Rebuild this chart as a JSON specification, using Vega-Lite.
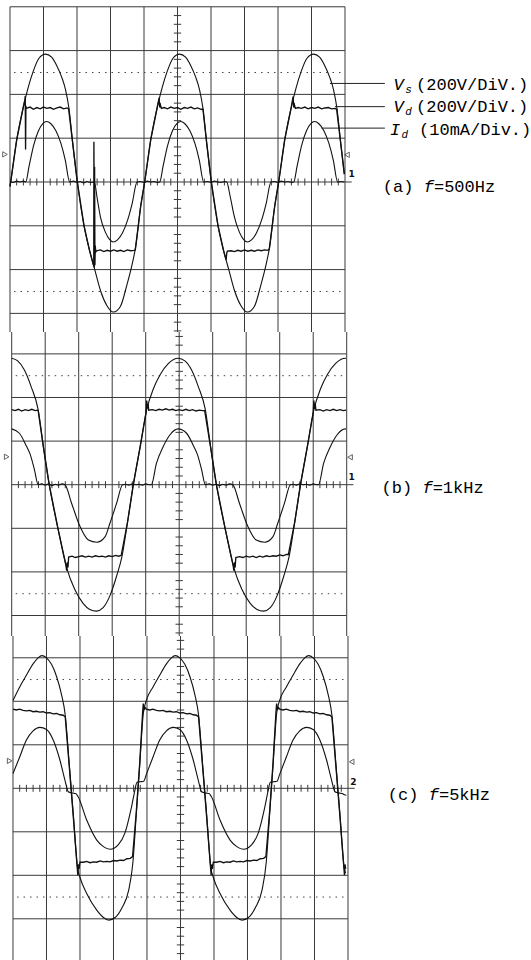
{
"$schema":"https://vega.github.io/schema/vega-lite/v6.json",
"padding":0,
"spacing":0,
"bounds":"flush",
"background":"white",
"config":{"view":{"stroke":null}},
"resolve":{"scale":{"x":"independent","y":"independent"}},
"datasets":{
"hl":[{"p":"a","y":4},{"p":"a","y":3},{"p":"a","y":2},{"p":"a","y":1},{"p":"a","y":0},{"p":"a","y":-1},{"p":"a","y":-2},{"p":"a","y":-3},
{"p":"b","y":3},{"p":"b","y":2},{"p":"b","y":1},{"p":"b","y":0},{"p":"b","y":-1},{"p":"b","y":-2},{"p":"b","y":-3},
{"p":"c","y":3},{"p":"c","y":2},{"p":"c","y":1},{"p":"c","y":0},{"p":"c","y":-1},{"p":"c","y":-2},{"p":"c","y":-3}],
"vl":[{"x":0},{"x":1},{"x":2},{"x":3},{"x":4},{"x":5},{"x":6},{"x":7},{"x":8},{"x":9},{"x":10}],
"tx":[{"x":0.2},{"x":0.4},{"x":0.6},{"x":0.8},{"x":1.2},{"x":1.4},{"x":1.6},{"x":1.8},{"x":2.2},{"x":2.4},{"x":2.6},{"x":2.8},{"x":3.2},{"x":3.4},{"x":3.6},{"x":3.8},{"x":4.2},{"x":4.4},{"x":4.6},{"x":4.8},{"x":5.2},{"x":5.4},{"x":5.6},{"x":5.8},{"x":6.2},{"x":6.4},{"x":6.6},{"x":6.8},{"x":7.2},{"x":7.4},{"x":7.6},{"x":7.8},{"x":8.2},{"x":8.4},{"x":8.6},{"x":8.8},{"x":9.2},{"x":9.4},{"x":9.6},{"x":9.8}],
"ty":[{"y":-3.8},{"y":-3.6},{"y":-3.4},{"y":-3.2},{"y":-2.8},{"y":-2.6},{"y":-2.4},{"y":-2.2},{"y":-1.8},{"y":-1.6},{"y":-1.4},{"y":-1.2},{"y":-0.8},{"y":-0.6},{"y":-0.4},{"y":-0.2},{"y":0.2},{"y":0.4},{"y":0.6},{"y":0.8},{"y":1.2},{"y":1.4},{"y":1.6},{"y":1.8},{"y":2.2},{"y":2.4},{"y":2.6},{"y":2.8},{"y":3.2},{"y":3.4},{"y":3.6},{"y":3.8}],
"dl":[{"y":2.5},{"y":-2.5}],
"ext":[{"y":0}],
"mr":[{"p":"a","x":-0.15,"y":0.63},{"p":"b","x":-0.15,"y":0.64},{"p":"c","x":-0.1,"y":0.63}],
"ml":[{"p":"a","x":10.06,"y":0.62},{"p":"b","x":10.1,"y":0.63},{"p":"c","x":10.11,"y":0.61}],
"ch":[{"p":"a","x":10.2,"y":0.19,"t":"1"},{"p":"b","x":10.15,"y":0.17,"t":"1"},{"p":"c","x":10.16,"y":0.15,"t":"2"}],
"ld":[{"x":9.55,"x2":11.19,"y":2.25},{"x":9.7,"x2":11.19,"y":1.72},{"x":9.3,"x2":11.19,"y":1.23}],
"tr":[{"p":"a","x":12.12,"y":2.1,"t":"(200V/DiV.)"},{"p":"a","x":12.12,"y":1.59,"t":"(200V/DiV.)"},{"p":"a","x":12.21,"y":1.07,"t":"(10mA/Div.)"},{"p":"a","x":11.13,"y":-0.22,"t":"(a)"},{"p":"a","x":12.655,"y":-0.22,"t":"=500Hz"},
{"p":"b","x":11.04,"y":-0.19,"t":"(b)"},{"p":"b","x":12.565,"y":-0.19,"t":"=1kHz"},
{"p":"c","x":11.19,"y":-0.27,"t":"(c)"},{"p":"c","x":12.715,"y":-0.27,"t":"=5kHz"}],
"ti":[{"p":"a","x":11.45,"y":2.1,"t":"V"},{"p":"a","x":11.45,"y":1.59,"t":"V"},{"p":"a","x":11.34,"y":1.07,"t":"I"},{"p":"a","x":12.35,"y":-0.22,"t":"f"},
{"p":"b","x":12.26,"y":-0.19,"t":"f"},{"p":"c","x":12.41,"y":-0.27,"t":"f"}],
"ts":[{"p":"a","x":11.8,"y":2.04,"t":"s"},{"p":"a","x":11.8,"y":1.53,"t":"d"},{"p":"a","x":11.69,"y":1.01,"t":"d"}],
"A":[
{"s":"Vs","x":0,"y":-0.1},{"s":"Vs","x":0.02,"y":0},{"s":"Vs","x":0.2,"y":0.96},{"s":"Vs","x":0.4,"y":1.72},{"s":"Vs","x":0.54,"y":2.15},{"s":"Vs","x":0.69,"y":2.52},{"s":"Vs","x":0.86,"y":2.82},{"s":"Vs","x":1.06,"y":2.92},{"s":"Vs","x":1.24,"y":2.85},{"s":"Vs","x":1.4,"y":2.65},{"s":"Vs","x":1.54,"y":2.4},{"s":"Vs","x":1.66,"y":2.1},{"s":"Vs","x":1.76,"y":1.68},{"s":"Vs","x":1.87,"y":0.9},{"s":"Vs","x":2.01,"y":0},{"s":"Vs","x":2.21,"y":-1},{"s":"Vs","x":2.37,"y":-1.55},{"s":"Vs","x":2.53,"y":-2},{"s":"Vs","x":2.71,"y":-2.5},{"s":"Vs","x":2.89,"y":-2.82},{"s":"Vs","x":3.09,"y":-2.97},{"s":"Vs","x":3.29,"y":-2.85},{"s":"Vs","x":3.49,"y":-2.35},{"s":"Vs","x":3.64,"y":-1.9},{"s":"Vs","x":3.75,"y":-1.48},{"s":"Vs","x":3.9,"y":-0.56},
{"s":"Vs","x":4.02,"y":0},{"s":"Vs","x":4.2,"y":0.96},{"s":"Vs","x":4.4,"y":1.72},{"s":"Vs","x":4.54,"y":2.15},{"s":"Vs","x":4.69,"y":2.52},{"s":"Vs","x":4.86,"y":2.82},{"s":"Vs","x":5.06,"y":2.92},{"s":"Vs","x":5.24,"y":2.85},{"s":"Vs","x":5.4,"y":2.65},{"s":"Vs","x":5.54,"y":2.4},{"s":"Vs","x":5.66,"y":2.1},{"s":"Vs","x":5.76,"y":1.68},{"s":"Vs","x":5.87,"y":0.9},{"s":"Vs","x":6.01,"y":0},{"s":"Vs","x":6.21,"y":-1},{"s":"Vs","x":6.37,"y":-1.55},{"s":"Vs","x":6.53,"y":-2},{"s":"Vs","x":6.71,"y":-2.5},{"s":"Vs","x":6.89,"y":-2.82},{"s":"Vs","x":7.09,"y":-2.97},{"s":"Vs","x":7.29,"y":-2.85},{"s":"Vs","x":7.49,"y":-2.35},{"s":"Vs","x":7.64,"y":-1.9},{"s":"Vs","x":7.75,"y":-1.48},{"s":"Vs","x":7.9,"y":-0.56},
{"s":"Vs","x":8.02,"y":0},{"s":"Vs","x":8.2,"y":0.96},{"s":"Vs","x":8.4,"y":1.72},{"s":"Vs","x":8.54,"y":2.15},{"s":"Vs","x":8.69,"y":2.52},{"s":"Vs","x":8.86,"y":2.82},{"s":"Vs","x":9.06,"y":2.92},{"s":"Vs","x":9.24,"y":2.85},{"s":"Vs","x":9.4,"y":2.65},{"s":"Vs","x":9.54,"y":2.4},{"s":"Vs","x":9.66,"y":2.1},{"s":"Vs","x":9.76,"y":1.68},{"s":"Vs","x":9.87,"y":0.9},{"s":"Vs","x":9.98,"y":0.18},
{"s":"Vd","x":0,"y":-0.1},{"s":"Vd","x":0.02,"y":0},{"s":"Vd","x":0.2,"y":0.96},{"s":"Vd","x":0.4,"y":1.72},{"s":"Vd","x":0.445,"y":1.88},{"s":"Vd","x":0.455,"y":1.96},{"s":"Vd","x":0.465,"y":0.74},{"s":"Vd","x":0.475,"y":1.74},{"s":"Vd","x":0.49,"y":1.68},{"s":"Vd","x":0.6,"y":1.71},{"s":"Vd","x":0.7,"y":1.66},{"s":"Vd","x":0.8,"y":1.7},{"s":"Vd","x":0.9,"y":1.67},{"s":"Vd","x":1.0,"y":1.71},{"s":"Vd","x":1.1,"y":1.68},{"s":"Vd","x":1.2,"y":1.7},{"s":"Vd","x":1.3,"y":1.66},{"s":"Vd","x":1.4,"y":1.69},{"s":"Vd","x":1.5,"y":1.71},{"s":"Vd","x":1.6,"y":1.67},{"s":"Vd","x":1.7,"y":1.69},{"s":"Vd","x":1.75,"y":1.67},{"s":"Vd","x":1.87,"y":0.9},{"s":"Vd","x":2.01,"y":0},{"s":"Vd","x":2.21,"y":-1},{"s":"Vd","x":2.37,"y":-1.55},{"s":"Vd","x":2.5,"y":-1.92},{"s":"Vd","x":2.505,"y":0.92},{"s":"Vd","x":2.515,"y":-1.95},{"s":"Vd","x":2.525,"y":0.35},{"s":"Vd","x":2.535,"y":-1.9},{"s":"Vd","x":2.545,"y":-1.45},{"s":"Vd","x":2.56,"y":-1.6},{"s":"Vd","x":2.58,"y":-1.57},{"s":"Vd","x":2.7,"y":-1.55},{"s":"Vd","x":2.8,"y":-1.59},{"s":"Vd","x":2.9,"y":-1.56},{"s":"Vd","x":3.0,"y":-1.58},{"s":"Vd","x":3.1,"y":-1.55},{"s":"Vd","x":3.2,"y":-1.58},{"s":"Vd","x":3.3,"y":-1.56},{"s":"Vd","x":3.4,"y":-1.59},{"s":"Vd","x":3.5,"y":-1.55},{"s":"Vd","x":3.6,"y":-1.57},{"s":"Vd","x":3.7,"y":-1.56},{"s":"Vd","x":3.74,"y":-1.55},{"s":"Vd","x":3.9,"y":-0.56},
{"s":"Vd","x":4.02,"y":0},{"s":"Vd","x":4.2,"y":0.96},{"s":"Vd","x":4.4,"y":1.72},{"s":"Vd","x":4.45,"y":1.92},{"s":"Vd","x":4.47,"y":1.7},{"s":"Vd","x":4.49,"y":1.76},{"s":"Vd","x":4.52,"y":1.68},{"s":"Vd","x":4.6,"y":1.7},{"s":"Vd","x":4.7,"y":1.67},{"s":"Vd","x":4.8,"y":1.71},{"s":"Vd","x":4.9,"y":1.68},{"s":"Vd","x":5.0,"y":1.7},{"s":"Vd","x":5.1,"y":1.66},{"s":"Vd","x":5.2,"y":1.7},{"s":"Vd","x":5.3,"y":1.68},{"s":"Vd","x":5.4,"y":1.71},{"s":"Vd","x":5.5,"y":1.67},{"s":"Vd","x":5.6,"y":1.69},{"s":"Vd","x":5.7,"y":1.66},{"s":"Vd","x":5.76,"y":1.66},{"s":"Vd","x":5.87,"y":0.9},{"s":"Vd","x":6.01,"y":0},{"s":"Vd","x":6.21,"y":-1},{"s":"Vd","x":6.37,"y":-1.55},{"s":"Vd","x":6.45,"y":-1.78},{"s":"Vd","x":6.47,"y":-1.62},{"s":"Vd","x":6.49,"y":-1.58},{"s":"Vd","x":6.6,"y":-1.57},{"s":"Vd","x":6.7,"y":-1.59},{"s":"Vd","x":6.8,"y":-1.56},{"s":"Vd","x":6.9,"y":-1.58},{"s":"Vd","x":7.0,"y":-1.55},{"s":"Vd","x":7.1,"y":-1.58},{"s":"Vd","x":7.2,"y":-1.56},{"s":"Vd","x":7.3,"y":-1.58},{"s":"Vd","x":7.4,"y":-1.55},{"s":"Vd","x":7.5,"y":-1.57},{"s":"Vd","x":7.6,"y":-1.55},{"s":"Vd","x":7.7,"y":-1.56},{"s":"Vd","x":7.74,"y":-1.53},{"s":"Vd","x":7.9,"y":-0.56},
{"s":"Vd","x":8.02,"y":0},{"s":"Vd","x":8.2,"y":0.96},{"s":"Vd","x":8.4,"y":1.72},{"s":"Vd","x":8.45,"y":1.95},{"s":"Vd","x":8.47,"y":1.7},{"s":"Vd","x":8.49,"y":1.76},{"s":"Vd","x":8.52,"y":1.68},{"s":"Vd","x":8.6,"y":1.7},{"s":"Vd","x":8.7,"y":1.68},{"s":"Vd","x":8.8,"y":1.71},{"s":"Vd","x":8.9,"y":1.67},{"s":"Vd","x":9.0,"y":1.7},{"s":"Vd","x":9.1,"y":1.68},{"s":"Vd","x":9.2,"y":1.71},{"s":"Vd","x":9.3,"y":1.67},{"s":"Vd","x":9.4,"y":1.69},{"s":"Vd","x":9.5,"y":1.7},{"s":"Vd","x":9.6,"y":1.67},{"s":"Vd","x":9.7,"y":1.68},{"s":"Vd","x":9.75,"y":1.66},{"s":"Vd","x":9.87,"y":0.9},{"s":"Vd","x":9.98,"y":0.18},
{"s":"Id","x":0,"y":0.01},{"s":"Id","x":0.1,"y":-0.01},{"s":"Id","x":0.2,"y":0.02},{"s":"Id","x":0.3,"y":0},{"s":"Id","x":0.4,"y":0.02},{"s":"Id","x":0.47,"y":0},{"s":"Id","x":0.57,"y":0.36},{"s":"Id","x":0.7,"y":0.82},{"s":"Id","x":0.85,"y":1.17},{"s":"Id","x":0.98,"y":1.33},{"s":"Id","x":1.09,"y":1.38},{"s":"Id","x":1.22,"y":1.33},{"s":"Id","x":1.37,"y":1.17},{"s":"Id","x":1.52,"y":0.88},{"s":"Id","x":1.65,"y":0.5},{"s":"Id","x":1.78,"y":0},
{"s":"Id","x":1.9,"y":0.02},{"s":"Id","x":2.0,"y":-0.01},{"s":"Id","x":2.1,"y":0.01},{"s":"Id","x":2.2,"y":-0.02},{"s":"Id","x":2.3,"y":0.01},{"s":"Id","x":2.4,"y":-0.01},{"s":"Id","x":2.52,"y":0},{"s":"Id","x":2.6,"y":-0.36},{"s":"Id","x":2.7,"y":-0.8},{"s":"Id","x":2.85,"y":-1.15},{"s":"Id","x":2.97,"y":-1.31},{"s":"Id","x":3.08,"y":-1.37},{"s":"Id","x":3.21,"y":-1.32},{"s":"Id","x":3.36,"y":-1.16},{"s":"Id","x":3.51,"y":-0.87},{"s":"Id","x":3.65,"y":-0.48},{"s":"Id","x":3.79,"y":0},
{"s":"Id","x":3.9,"y":0.01},{"s":"Id","x":4.0,"y":-0.01},{"s":"Id","x":4.1,"y":0.02},{"s":"Id","x":4.2,"y":0},{"s":"Id","x":4.3,"y":0.01},{"s":"Id","x":4.4,"y":-0.01},{"s":"Id","x":4.47,"y":0},{"s":"Id","x":4.57,"y":0.36},{"s":"Id","x":4.7,"y":0.82},{"s":"Id","x":4.85,"y":1.17},{"s":"Id","x":4.98,"y":1.33},{"s":"Id","x":5.09,"y":1.38},{"s":"Id","x":5.22,"y":1.33},{"s":"Id","x":5.37,"y":1.17},{"s":"Id","x":5.52,"y":0.88},{"s":"Id","x":5.65,"y":0.5},{"s":"Id","x":5.78,"y":0},
{"s":"Id","x":5.9,"y":0.01},{"s":"Id","x":6.0,"y":-0.01},{"s":"Id","x":6.1,"y":0.02},{"s":"Id","x":6.2,"y":0},{"s":"Id","x":6.3,"y":-0.01},{"s":"Id","x":6.4,"y":0.01},{"s":"Id","x":6.47,"y":0},{"s":"Id","x":6.57,"y":-0.32},{"s":"Id","x":6.7,"y":-0.8},{"s":"Id","x":6.85,"y":-1.15},{"s":"Id","x":6.97,"y":-1.31},{"s":"Id","x":7.08,"y":-1.37},{"s":"Id","x":7.21,"y":-1.32},{"s":"Id","x":7.36,"y":-1.16},{"s":"Id","x":7.51,"y":-0.87},{"s":"Id","x":7.65,"y":-0.48},{"s":"Id","x":7.79,"y":0},
{"s":"Id","x":7.9,"y":0.01},{"s":"Id","x":8.0,"y":-0.01},{"s":"Id","x":8.1,"y":0.02},{"s":"Id","x":8.2,"y":0},{"s":"Id","x":8.3,"y":0.01},{"s":"Id","x":8.4,"y":-0.01},{"s":"Id","x":8.47,"y":0},{"s":"Id","x":8.57,"y":0.36},{"s":"Id","x":8.7,"y":0.82},{"s":"Id","x":8.85,"y":1.17},{"s":"Id","x":8.98,"y":1.33},{"s":"Id","x":9.09,"y":1.38},{"s":"Id","x":9.22,"y":1.33},{"s":"Id","x":9.37,"y":1.17},{"s":"Id","x":9.52,"y":0.88},{"s":"Id","x":9.65,"y":0.5},{"s":"Id","x":9.78,"y":0},{"s":"Id","x":9.88,"y":0.01},{"s":"Id","x":9.98,"y":0}
],
"B":[
{"s":"Vs","x":0,"y":2.9},{"s":"Vs","x":0.18,"y":2.84},{"s":"Vs","x":0.38,"y":2.63},{"s":"Vs","x":0.58,"y":2.25},{"s":"Vs","x":0.79,"y":1.72},{"s":"Vs","x":0.95,"y":0.85},{"s":"Vs","x":1.12,"y":0},{"s":"Vs","x":1.38,"y":-1},{"s":"Vs","x":1.64,"y":-1.9},{"s":"Vs","x":1.88,"y":-2.4},{"s":"Vs","x":2.13,"y":-2.72},{"s":"Vs","x":2.33,"y":-2.86},{"s":"Vs","x":2.53,"y":-2.9},{"s":"Vs","x":2.73,"y":-2.82},{"s":"Vs","x":2.93,"y":-2.55},{"s":"Vs","x":3.13,"y":-2.1},{"s":"Vs","x":3.29,"y":-1.65},{"s":"Vs","x":3.46,"y":-0.85},{"s":"Vs","x":3.63,"y":0},{"s":"Vs","x":3.83,"y":0.85},{"s":"Vs","x":4.03,"y":1.72},{"s":"Vs","x":4.23,"y":2.2},{"s":"Vs","x":4.43,"y":2.52},{"s":"Vs","x":4.68,"y":2.78},{"s":"Vs","x":4.97,"y":2.9},
{"s":"Vs","x":5.17,"y":2.84},{"s":"Vs","x":5.37,"y":2.63},{"s":"Vs","x":5.57,"y":2.25},{"s":"Vs","x":5.78,"y":1.72},{"s":"Vs","x":5.94,"y":0.85},{"s":"Vs","x":6.11,"y":0},{"s":"Vs","x":6.37,"y":-1},{"s":"Vs","x":6.63,"y":-1.9},{"s":"Vs","x":6.87,"y":-2.4},{"s":"Vs","x":7.12,"y":-2.72},{"s":"Vs","x":7.32,"y":-2.86},{"s":"Vs","x":7.52,"y":-2.9},{"s":"Vs","x":7.72,"y":-2.82},{"s":"Vs","x":7.92,"y":-2.55},{"s":"Vs","x":8.12,"y":-2.1},{"s":"Vs","x":8.28,"y":-1.65},{"s":"Vs","x":8.45,"y":-0.85},{"s":"Vs","x":8.62,"y":0},{"s":"Vs","x":8.82,"y":0.85},{"s":"Vs","x":9.02,"y":1.72},{"s":"Vs","x":9.22,"y":2.2},{"s":"Vs","x":9.42,"y":2.52},{"s":"Vs","x":9.67,"y":2.78},{"s":"Vs","x":9.96,"y":2.9},{"s":"Vs","x":9.98,"y":2.9},
{"s":"Vd","x":0,"y":1.72},{"s":"Vd","x":0.1,"y":1.7},{"s":"Vd","x":0.2,"y":1.73},{"s":"Vd","x":0.3,"y":1.69},{"s":"Vd","x":0.4,"y":1.72},{"s":"Vd","x":0.5,"y":1.7},{"s":"Vd","x":0.6,"y":1.73},{"s":"Vd","x":0.7,"y":1.7},{"s":"Vd","x":0.77,"y":1.71},{"s":"Vd","x":0.79,"y":1.7},{"s":"Vd","x":0.95,"y":0.85},{"s":"Vd","x":1.12,"y":0},{"s":"Vd","x":1.38,"y":-1},{"s":"Vd","x":1.62,"y":-1.85},{"s":"Vd","x":1.64,"y":-1.97},{"s":"Vd","x":1.66,"y":-1.78},{"s":"Vd","x":1.68,"y":-1.9},{"s":"Vd","x":1.7,"y":-1.66},
{"s":"Vd","x":1.8,"y":-1.64},{"s":"Vd","x":1.9,"y":-1.67},{"s":"Vd","x":2.0,"y":-1.65},{"s":"Vd","x":2.1,"y":-1.63},{"s":"Vd","x":2.2,"y":-1.66},{"s":"Vd","x":2.3,"y":-1.64},{"s":"Vd","x":2.4,"y":-1.66},{"s":"Vd","x":2.5,"y":-1.63},{"s":"Vd","x":2.6,"y":-1.65},{"s":"Vd","x":2.7,"y":-1.64},{"s":"Vd","x":2.8,"y":-1.66},{"s":"Vd","x":2.9,"y":-1.63},{"s":"Vd","x":3.0,"y":-1.65},{"s":"Vd","x":3.1,"y":-1.62},{"s":"Vd","x":3.2,"y":-1.64},{"s":"Vd","x":3.27,"y":-1.62},
{"s":"Vd","x":3.46,"y":-0.85},{"s":"Vd","x":3.63,"y":0},{"s":"Vd","x":3.83,"y":0.85},{"s":"Vd","x":4.01,"y":1.65},{"s":"Vd","x":4.03,"y":1.93},{"s":"Vd","x":4.05,"y":1.75},{"s":"Vd","x":4.07,"y":1.86},{"s":"Vd","x":4.09,"y":1.71},
{"s":"Vd","x":4.2,"y":1.72},{"s":"Vd","x":4.3,"y":1.7},{"s":"Vd","x":4.4,"y":1.73},{"s":"Vd","x":4.5,"y":1.71},{"s":"Vd","x":4.6,"y":1.74},{"s":"Vd","x":4.7,"y":1.71},{"s":"Vd","x":4.8,"y":1.73},{"s":"Vd","x":4.9,"y":1.7},{"s":"Vd","x":5.0,"y":1.72},{"s":"Vd","x":5.1,"y":1.7},{"s":"Vd","x":5.2,"y":1.73},{"s":"Vd","x":5.3,"y":1.7},{"s":"Vd","x":5.4,"y":1.72},{"s":"Vd","x":5.5,"y":1.69},{"s":"Vd","x":5.6,"y":1.71},{"s":"Vd","x":5.7,"y":1.7},{"s":"Vd","x":5.76,"y":1.7},
{"s":"Vd","x":5.94,"y":0.85},{"s":"Vd","x":6.11,"y":0},{"s":"Vd","x":6.37,"y":-1},{"s":"Vd","x":6.61,"y":-1.85},{"s":"Vd","x":6.63,"y":-1.97},{"s":"Vd","x":6.65,"y":-1.78},{"s":"Vd","x":6.67,"y":-1.9},{"s":"Vd","x":6.69,"y":-1.67},
{"s":"Vd","x":6.8,"y":-1.65},{"s":"Vd","x":6.9,"y":-1.67},{"s":"Vd","x":7.0,"y":-1.64},{"s":"Vd","x":7.1,"y":-1.66},{"s":"Vd","x":7.2,"y":-1.64},{"s":"Vd","x":7.3,"y":-1.67},{"s":"Vd","x":7.4,"y":-1.64},{"s":"Vd","x":7.5,"y":-1.66},{"s":"Vd","x":7.6,"y":-1.63},{"s":"Vd","x":7.7,"y":-1.65},{"s":"Vd","x":7.8,"y":-1.63},{"s":"Vd","x":7.9,"y":-1.64},{"s":"Vd","x":8.0,"y":-1.61},{"s":"Vd","x":8.1,"y":-1.63},{"s":"Vd","x":8.2,"y":-1.6},{"s":"Vd","x":8.26,"y":-1.6},
{"s":"Vd","x":8.45,"y":-0.85},{"s":"Vd","x":8.62,"y":0},{"s":"Vd","x":8.82,"y":0.85},{"s":"Vd","x":9.0,"y":1.65},{"s":"Vd","x":9.02,"y":1.93},{"s":"Vd","x":9.04,"y":1.74},{"s":"Vd","x":9.06,"y":1.86},{"s":"Vd","x":9.08,"y":1.71},
{"s":"Vd","x":9.2,"y":1.72},{"s":"Vd","x":9.3,"y":1.69},{"s":"Vd","x":9.4,"y":1.72},{"s":"Vd","x":9.5,"y":1.7},{"s":"Vd","x":9.6,"y":1.73},{"s":"Vd","x":9.7,"y":1.7},{"s":"Vd","x":9.8,"y":1.72},{"s":"Vd","x":9.9,"y":1.7},{"s":"Vd","x":9.98,"y":1.71},
{"s":"Id","x":0,"y":1.28},{"s":"Id","x":0.23,"y":1.18},{"s":"Id","x":0.43,"y":0.9},{"s":"Id","x":0.55,"y":0.7},{"s":"Id","x":0.68,"y":0.34},{"s":"Id","x":0.79,"y":0},{"s":"Id","x":0.9,"y":0.02},{"s":"Id","x":1.0,"y":-0.01},{"s":"Id","x":1.1,"y":0.02},{"s":"Id","x":1.2,"y":-0.02},{"s":"Id","x":1.3,"y":0.01},{"s":"Id","x":1.4,"y":-0.01},{"s":"Id","x":1.5,"y":0.02},{"s":"Id","x":1.59,"y":0},{"s":"Id","x":1.79,"y":-0.43},{"s":"Id","x":2.04,"y":-0.96},{"s":"Id","x":2.29,"y":-1.27},{"s":"Id","x":2.54,"y":-1.32},{"s":"Id","x":2.79,"y":-1.19},{"s":"Id","x":2.93,"y":-0.89},{"s":"Id","x":3.13,"y":-0.43},{"s":"Id","x":3.31,"y":0},
{"s":"Id","x":3.4,"y":0.01},{"s":"Id","x":3.5,"y":-0.01},{"s":"Id","x":3.6,"y":0.02},{"s":"Id","x":3.7,"y":0},{"s":"Id","x":3.8,"y":0.01},{"s":"Id","x":3.9,"y":-0.01},{"s":"Id","x":4.0,"y":0.02},{"s":"Id","x":4.1,"y":0},{"s":"Id","x":4.17,"y":0},{"s":"Id","x":4.32,"y":0.49},{"s":"Id","x":4.52,"y":0.87},{"s":"Id","x":4.72,"y":1.14},{"s":"Id","x":4.97,"y":1.28},
{"s":"Id","x":5.22,"y":1.18},{"s":"Id","x":5.42,"y":0.9},{"s":"Id","x":5.54,"y":0.7},{"s":"Id","x":5.67,"y":0.34},{"s":"Id","x":5.78,"y":0},{"s":"Id","x":5.9,"y":0.02},{"s":"Id","x":6.0,"y":-0.01},{"s":"Id","x":6.1,"y":0.01},{"s":"Id","x":6.2,"y":-0.02},{"s":"Id","x":6.3,"y":0.01},{"s":"Id","x":6.4,"y":-0.01},{"s":"Id","x":6.5,"y":0.02},{"s":"Id","x":6.6,"y":0},{"s":"Id","x":6.8,"y":-0.43},{"s":"Id","x":7.05,"y":-0.96},{"s":"Id","x":7.3,"y":-1.27},{"s":"Id","x":7.55,"y":-1.32},{"s":"Id","x":7.8,"y":-1.19},{"s":"Id","x":7.94,"y":-0.89},{"s":"Id","x":8.14,"y":-0.43},{"s":"Id","x":8.32,"y":0},
{"s":"Id","x":8.4,"y":0.01},{"s":"Id","x":8.5,"y":-0.01},{"s":"Id","x":8.6,"y":0.02},{"s":"Id","x":8.7,"y":0},{"s":"Id","x":8.8,"y":0.01},{"s":"Id","x":8.9,"y":-0.01},{"s":"Id","x":9.0,"y":0.02},{"s":"Id","x":9.1,"y":0},{"s":"Id","x":9.16,"y":0},{"s":"Id","x":9.31,"y":0.49},{"s":"Id","x":9.51,"y":0.87},{"s":"Id","x":9.71,"y":1.14},{"s":"Id","x":9.96,"y":1.28},{"s":"Id","x":9.98,"y":1.28}
],
"C":[
{"s":"Vs","x":0,"y":2.02},{"s":"Vs","x":0.2,"y":2.33},{"s":"Vs","x":0.4,"y":2.6},{"s":"Vs","x":0.6,"y":2.86},{"s":"Vs","x":0.75,"y":3.0},{"s":"Vs","x":0.86,"y":3.05},{"s":"Vs","x":1.0,"y":3.0},{"s":"Vs","x":1.15,"y":2.85},{"s":"Vs","x":1.3,"y":2.57},{"s":"Vs","x":1.45,"y":2.15},{"s":"Vs","x":1.56,"y":1.68},{"s":"Vs","x":1.68,"y":0.55},{"s":"Vs","x":1.8,"y":-0.6},{"s":"Vs","x":1.93,"y":-1.85},{"s":"Vs","x":2.0,"y":-2.05},{"s":"Vs","x":2.2,"y":-2.42},{"s":"Vs","x":2.5,"y":-2.8},{"s":"Vs","x":2.7,"y":-2.97},{"s":"Vs","x":2.86,"y":-3.03},{"s":"Vs","x":3.05,"y":-2.97},{"s":"Vs","x":3.25,"y":-2.75},{"s":"Vs","x":3.45,"y":-2.35},{"s":"Vs","x":3.58,"y":-1.7},{"s":"Vs","x":3.68,"y":-0.6},{"s":"Vs","x":3.78,"y":0.5},{"s":"Vs","x":3.89,"y":1.72},
{"s":"Vs","x":3.98,"y":2.02},{"s":"Vs","x":4.18,"y":2.33},{"s":"Vs","x":4.38,"y":2.6},{"s":"Vs","x":4.58,"y":2.86},{"s":"Vs","x":4.73,"y":3.0},{"s":"Vs","x":4.84,"y":3.05},{"s":"Vs","x":4.98,"y":3.0},{"s":"Vs","x":5.13,"y":2.85},{"s":"Vs","x":5.28,"y":2.57},{"s":"Vs","x":5.43,"y":2.15},{"s":"Vs","x":5.54,"y":1.68},{"s":"Vs","x":5.66,"y":0.55},{"s":"Vs","x":5.78,"y":-0.6},{"s":"Vs","x":5.91,"y":-1.85},{"s":"Vs","x":5.98,"y":-2.05},{"s":"Vs","x":6.18,"y":-2.42},{"s":"Vs","x":6.48,"y":-2.8},{"s":"Vs","x":6.68,"y":-2.97},{"s":"Vs","x":6.84,"y":-3.03},{"s":"Vs","x":7.03,"y":-2.97},{"s":"Vs","x":7.23,"y":-2.75},{"s":"Vs","x":7.43,"y":-2.35},{"s":"Vs","x":7.56,"y":-1.7},{"s":"Vs","x":7.66,"y":-0.6},{"s":"Vs","x":7.76,"y":0.5},{"s":"Vs","x":7.87,"y":1.72},
{"s":"Vs","x":7.96,"y":2.02},{"s":"Vs","x":8.16,"y":2.33},{"s":"Vs","x":8.36,"y":2.6},{"s":"Vs","x":8.56,"y":2.86},{"s":"Vs","x":8.71,"y":3.0},{"s":"Vs","x":8.82,"y":3.05},{"s":"Vs","x":8.96,"y":3.0},{"s":"Vs","x":9.11,"y":2.85},{"s":"Vs","x":9.26,"y":2.57},{"s":"Vs","x":9.41,"y":2.15},{"s":"Vs","x":9.52,"y":1.68},{"s":"Vs","x":9.64,"y":0.55},{"s":"Vs","x":9.76,"y":-0.6},{"s":"Vs","x":9.89,"y":-1.85},{"s":"Vs","x":9.93,"y":-1.95},
{"s":"Vd","x":0,"y":1.82},{"s":"Vd","x":0.1,"y":1.8},{"s":"Vd","x":0.2,"y":1.82},{"s":"Vd","x":0.3,"y":1.79},{"s":"Vd","x":0.4,"y":1.78},{"s":"Vd","x":0.5,"y":1.79},{"s":"Vd","x":0.6,"y":1.76},{"s":"Vd","x":0.7,"y":1.77},{"s":"Vd","x":0.8,"y":1.75},{"s":"Vd","x":0.9,"y":1.76},{"s":"Vd","x":1.0,"y":1.73},{"s":"Vd","x":1.1,"y":1.74},{"s":"Vd","x":1.2,"y":1.71},{"s":"Vd","x":1.3,"y":1.72},{"s":"Vd","x":1.4,"y":1.69},{"s":"Vd","x":1.5,"y":1.68},{"s":"Vd","x":1.56,"y":1.64},{"s":"Vd","x":1.68,"y":0.5},{"s":"Vd","x":1.8,"y":-0.65},{"s":"Vd","x":1.92,"y":-1.85},{"s":"Vd","x":1.935,"y":-2.0},{"s":"Vd","x":1.95,"y":-1.75},{"s":"Vd","x":1.97,"y":-1.85},{"s":"Vd","x":2.0,"y":-1.7},
{"s":"Vd","x":2.1,"y":-1.7},{"s":"Vd","x":2.2,"y":-1.68},{"s":"Vd","x":2.3,"y":-1.71},{"s":"Vd","x":2.4,"y":-1.69},{"s":"Vd","x":2.5,"y":-1.7},{"s":"Vd","x":2.6,"y":-1.67},{"s":"Vd","x":2.7,"y":-1.69},{"s":"Vd","x":2.8,"y":-1.68},{"s":"Vd","x":2.9,"y":-1.69},{"s":"Vd","x":3.0,"y":-1.66},{"s":"Vd","x":3.1,"y":-1.67},{"s":"Vd","x":3.2,"y":-1.65},{"s":"Vd","x":3.3,"y":-1.66},{"s":"Vd","x":3.4,"y":-1.62},{"s":"Vd","x":3.5,"y":-1.61},{"s":"Vd","x":3.57,"y":-1.57},{"s":"Vd","x":3.68,"y":-0.55},{"s":"Vd","x":3.78,"y":0.55},{"s":"Vd","x":3.87,"y":1.75},{"s":"Vd","x":3.89,"y":1.95},{"s":"Vd","x":3.91,"y":1.8},{"s":"Vd","x":3.94,"y":1.86},
{"s":"Vd","x":3.98,"y":1.82},{"s":"Vd","x":4.08,"y":1.8},{"s":"Vd","x":4.18,"y":1.82},{"s":"Vd","x":4.28,"y":1.79},{"s":"Vd","x":4.38,"y":1.78},{"s":"Vd","x":4.48,"y":1.79},{"s":"Vd","x":4.58,"y":1.76},{"s":"Vd","x":4.68,"y":1.77},{"s":"Vd","x":4.78,"y":1.75},{"s":"Vd","x":4.88,"y":1.76},{"s":"Vd","x":4.98,"y":1.73},{"s":"Vd","x":5.08,"y":1.74},{"s":"Vd","x":5.18,"y":1.71},{"s":"Vd","x":5.28,"y":1.72},{"s":"Vd","x":5.38,"y":1.69},{"s":"Vd","x":5.48,"y":1.68},{"s":"Vd","x":5.54,"y":1.64},{"s":"Vd","x":5.66,"y":0.5},{"s":"Vd","x":5.78,"y":-0.65},{"s":"Vd","x":5.9,"y":-1.85},{"s":"Vd","x":5.915,"y":-2.0},{"s":"Vd","x":5.93,"y":-1.75},{"s":"Vd","x":5.95,"y":-1.85},{"s":"Vd","x":5.98,"y":-1.7},
{"s":"Vd","x":6.08,"y":-1.7},{"s":"Vd","x":6.18,"y":-1.68},{"s":"Vd","x":6.28,"y":-1.71},{"s":"Vd","x":6.38,"y":-1.69},{"s":"Vd","x":6.48,"y":-1.7},{"s":"Vd","x":6.58,"y":-1.67},{"s":"Vd","x":6.68,"y":-1.69},{"s":"Vd","x":6.78,"y":-1.68},{"s":"Vd","x":6.88,"y":-1.69},{"s":"Vd","x":6.98,"y":-1.66},{"s":"Vd","x":7.08,"y":-1.67},{"s":"Vd","x":7.18,"y":-1.65},{"s":"Vd","x":7.28,"y":-1.66},{"s":"Vd","x":7.38,"y":-1.62},{"s":"Vd","x":7.48,"y":-1.61},{"s":"Vd","x":7.55,"y":-1.57},{"s":"Vd","x":7.66,"y":-0.55},{"s":"Vd","x":7.76,"y":0.55},{"s":"Vd","x":7.85,"y":1.75},{"s":"Vd","x":7.87,"y":1.95},{"s":"Vd","x":7.89,"y":1.8},{"s":"Vd","x":7.92,"y":1.86},
{"s":"Vd","x":7.96,"y":1.82},{"s":"Vd","x":8.06,"y":1.8},{"s":"Vd","x":8.16,"y":1.82},{"s":"Vd","x":8.26,"y":1.79},{"s":"Vd","x":8.36,"y":1.78},{"s":"Vd","x":8.46,"y":1.79},{"s":"Vd","x":8.56,"y":1.76},{"s":"Vd","x":8.66,"y":1.77},{"s":"Vd","x":8.76,"y":1.75},{"s":"Vd","x":8.86,"y":1.76},{"s":"Vd","x":8.96,"y":1.73},{"s":"Vd","x":9.06,"y":1.74},{"s":"Vd","x":9.16,"y":1.71},{"s":"Vd","x":9.26,"y":1.72},{"s":"Vd","x":9.36,"y":1.69},{"s":"Vd","x":9.46,"y":1.68},{"s":"Vd","x":9.52,"y":1.64},{"s":"Vd","x":9.64,"y":0.5},{"s":"Vd","x":9.76,"y":-0.65},{"s":"Vd","x":9.88,"y":-1.85},{"s":"Vd","x":9.895,"y":-2.0},{"s":"Vd","x":9.91,"y":-1.75},{"s":"Vd","x":9.93,"y":-1.85},
{"s":"Id","x":0,"y":0.34},{"s":"Id","x":0.2,"y":0.72},{"s":"Id","x":0.4,"y":1.11},{"s":"Id","x":0.6,"y":1.32},{"s":"Id","x":0.8,"y":1.4},{"s":"Id","x":1.0,"y":1.35},{"s":"Id","x":1.2,"y":1.11},{"s":"Id","x":1.4,"y":0.65},{"s":"Id","x":1.55,"y":0.19},{"s":"Id","x":1.65,"y":-0.08},{"s":"Id","x":1.72,"y":-0.1},{"s":"Id","x":1.8,"y":-0.11},{"s":"Id","x":1.87,"y":-0.12},{"s":"Id","x":1.94,"y":-0.19},{"s":"Id","x":2.2,"y":-0.73},{"s":"Id","x":2.5,"y":-1.19},{"s":"Id","x":2.7,"y":-1.34},{"s":"Id","x":2.9,"y":-1.4},{"s":"Id","x":3.14,"y":-1.3},{"s":"Id","x":3.34,"y":-1.03},{"s":"Id","x":3.54,"y":-0.42},{"s":"Id","x":3.64,"y":-0.04},{"s":"Id","x":3.7,"y":0.14},{"s":"Id","x":3.8,"y":0.15},{"s":"Id","x":3.9,"y":0.16},
{"s":"Id","x":3.98,"y":0.32},{"s":"Id","x":4.18,"y":0.72},{"s":"Id","x":4.38,"y":1.11},{"s":"Id","x":4.58,"y":1.32},{"s":"Id","x":4.78,"y":1.4},{"s":"Id","x":4.98,"y":1.35},{"s":"Id","x":5.18,"y":1.11},{"s":"Id","x":5.38,"y":0.65},{"s":"Id","x":5.53,"y":0.19},{"s":"Id","x":5.63,"y":-0.08},{"s":"Id","x":5.7,"y":-0.1},{"s":"Id","x":5.78,"y":-0.11},{"s":"Id","x":5.85,"y":-0.12},{"s":"Id","x":5.92,"y":-0.19},{"s":"Id","x":6.18,"y":-0.73},{"s":"Id","x":6.48,"y":-1.19},{"s":"Id","x":6.68,"y":-1.34},{"s":"Id","x":6.88,"y":-1.4},{"s":"Id","x":7.12,"y":-1.3},{"s":"Id","x":7.32,"y":-1.03},{"s":"Id","x":7.52,"y":-0.42},{"s":"Id","x":7.62,"y":-0.04},{"s":"Id","x":7.68,"y":0.14},{"s":"Id","x":7.78,"y":0.15},{"s":"Id","x":7.88,"y":0.16},
{"s":"Id","x":7.96,"y":0.32},{"s":"Id","x":8.16,"y":0.72},{"s":"Id","x":8.36,"y":1.11},{"s":"Id","x":8.56,"y":1.32},{"s":"Id","x":8.76,"y":1.4},{"s":"Id","x":8.96,"y":1.35},{"s":"Id","x":9.16,"y":1.11},{"s":"Id","x":9.36,"y":0.65},{"s":"Id","x":9.51,"y":0.19},{"s":"Id","x":9.61,"y":-0.08},{"s":"Id","x":9.68,"y":-0.1},{"s":"Id","x":9.76,"y":-0.11},{"s":"Id","x":9.83,"y":-0.12},{"s":"Id","x":9.9,"y":-0.15},{"s":"Id","x":9.95,"y":-0.16}
]
},
"vconcat":[
{"width":531,"height":332,"layer":[
{"data":{"name":"hl"},"transform":[{"filter":"datum.p==='a'"}],"mark":{"type":"rule","color":"#3a3a3a","strokeWidth":1},"encoding":{"x":{"datum":0,"type":"quantitative","scale":{"domain":[-0.2985,15.552],"nice":false,"zero":false},"axis":null},"x2":{"datum":10},"y":{"field":"y","type":"quantitative","scale":{"domain":[-3.425,4.155],"nice":false,"zero":false},"axis":null}}},
{"data":{"name":"vl"},"mark":{"type":"rule","color":"#3a3a3a","strokeWidth":1},"encoding":{"x":{"field":"x","type":"quantitative","scale":{"domain":[-0.2985,15.552],"nice":false,"zero":false},"axis":null},"y":{"datum":4,"type":"quantitative","scale":{"domain":[-3.425,4.155],"nice":false,"zero":false},"axis":null},"y2":{"datum":-3.425}}},
{"data":{"name":"tx"},"mark":{"type":"rule","color":"#3a3a3a","strokeWidth":1},"encoding":{"x":{"field":"x","type":"quantitative","scale":{"domain":[-0.2985,15.552],"nice":false,"zero":false},"axis":null},"y":{"datum":-0.08,"type":"quantitative","scale":{"domain":[-3.425,4.155],"nice":false,"zero":false},"axis":null},"y2":{"datum":0.08}}},
{"data":{"name":"ty"},"mark":{"type":"rule","color":"#3a3a3a","strokeWidth":1,"clip":true},"encoding":{"y":{"field":"y","type":"quantitative","scale":{"domain":[-3.425,4.155],"nice":false,"zero":false},"axis":null},"x":{"datum":4.89,"type":"quantitative","scale":{"domain":[-0.2985,15.552],"nice":false,"zero":false},"axis":null},"x2":{"datum":5.11}}},
{"data":{"name":"dl"},"mark":{"type":"rule","color":"#444","strokeWidth":1,"strokeDash":[1.5,5]},"encoding":{"y":{"field":"y","type":"quantitative","scale":{"domain":[-3.425,4.155],"nice":false,"zero":false},"axis":null},"x":{"datum":0.12,"type":"quantitative","scale":{"domain":[-0.2985,15.552],"nice":false,"zero":false},"axis":null},"x2":{"datum":9.88}}},
{"data":{"name":"ext"},"mark":{"type":"rule","color":"#3a3a3a","strokeWidth":1},"encoding":{"y":{"field":"y","type":"quantitative","scale":{"domain":[-3.425,4.155],"nice":false,"zero":false},"axis":null},"x":{"datum":10,"type":"quantitative","scale":{"domain":[-0.2985,15.552],"nice":false,"zero":false},"axis":null},"x2":{"datum":10.2}}},
{"data":{"name":"A"},"transform":[{"filter":"datum.s!=='Vd'"}],"mark":{"type":"line","interpolate":"monotone","color":"#111","strokeWidth":1.1},"encoding":{"x":{"field":"x","type":"quantitative","scale":{"domain":[-0.2985,15.552],"nice":false,"zero":false},"axis":null},"y":{"field":"y","type":"quantitative","scale":{"domain":[-3.425,4.155],"nice":false,"zero":false},"axis":null},"detail":{"field":"s"}}},
{"data":{"name":"A"},"transform":[{"filter":"datum.s==='Vd'"}],"mark":{"type":"line","interpolate":"linear","color":"#111","strokeWidth":1.35},"encoding":{"x":{"field":"x","type":"quantitative","scale":{"domain":[-0.2985,15.552],"nice":false,"zero":false},"axis":null},"y":{"field":"y","type":"quantitative","scale":{"domain":[-3.425,4.155],"nice":false,"zero":false},"axis":null}}},
{"data":{"name":"ld"},"mark":{"type":"rule","color":"#222","strokeWidth":1},"encoding":{"x":{"field":"x","type":"quantitative","scale":{"domain":[-0.2985,15.552],"nice":false,"zero":false},"axis":null},"x2":{"field":"x2"},"y":{"field":"y","type":"quantitative","scale":{"domain":[-3.425,4.155],"nice":false,"zero":false},"axis":null}}},
{"data":{"name":"mr"},"transform":[{"filter":"datum.p==='a'"}],"mark":{"type":"point","shape":"triangle-right","filled":false,"size":28,"color":"#222","strokeWidth":1},"encoding":{"x":{"field":"x","type":"quantitative","scale":{"domain":[-0.2985,15.552],"nice":false,"zero":false},"axis":null},"y":{"field":"y","type":"quantitative","scale":{"domain":[-3.425,4.155],"nice":false,"zero":false},"axis":null}}},
{"data":{"name":"ml"},"transform":[{"filter":"datum.p==='a'"}],"mark":{"type":"point","shape":"triangle-left","filled":false,"size":28,"color":"#222","strokeWidth":1},"encoding":{"x":{"field":"x","type":"quantitative","scale":{"domain":[-0.2985,15.552],"nice":false,"zero":false},"axis":null},"y":{"field":"y","type":"quantitative","scale":{"domain":[-3.425,4.155],"nice":false,"zero":false},"axis":null}}},
{"data":{"name":"ch"},"transform":[{"filter":"datum.p==='a'"}],"mark":{"type":"text","font":"DejaVu Sans","fontWeight":"bold","fontSize":9,"align":"center","baseline":"middle","color":"#111"},"encoding":{"x":{"field":"x","type":"quantitative","scale":{"domain":[-0.2985,15.552],"nice":false,"zero":false},"axis":null},"y":{"field":"y","type":"quantitative","scale":{"domain":[-3.425,4.155],"nice":false,"zero":false},"axis":null},"text":{"field":"t"}}},
{"data":{"name":"tr"},"transform":[{"filter":"datum.p==='a'"}],"mark":{"type":"text","font":"Liberation Mono","fontSize":17,"align":"left","baseline":"alphabetic","color":"#000"},"encoding":{"x":{"field":"x","type":"quantitative","scale":{"domain":[-0.2985,15.552],"nice":false,"zero":false},"axis":null},"y":{"field":"y","type":"quantitative","scale":{"domain":[-3.425,4.155],"nice":false,"zero":false},"axis":null},"text":{"field":"t"}}},
{"data":{"name":"ti"},"transform":[{"filter":"datum.p==='a'"}],"mark":{"type":"text","font":"Liberation Mono","fontStyle":"italic","fontSize":17,"align":"left","baseline":"alphabetic","color":"#000"},"encoding":{"x":{"field":"x","type":"quantitative","scale":{"domain":[-0.2985,15.552],"nice":false,"zero":false},"axis":null},"y":{"field":"y","type":"quantitative","scale":{"domain":[-3.425,4.155],"nice":false,"zero":false},"axis":null},"text":{"field":"t"}}},
{"data":{"name":"ts"},"transform":[{"filter":"datum.p==='a'"}],"mark":{"type":"text","font":"Liberation Mono","fontStyle":"italic","fontSize":11,"align":"left","baseline":"alphabetic","color":"#000"},"encoding":{"x":{"field":"x","type":"quantitative","scale":{"domain":[-0.2985,15.552],"nice":false,"zero":false},"axis":null},"y":{"field":"y","type":"quantitative","scale":{"domain":[-3.425,4.155],"nice":false,"zero":false},"axis":null},"text":{"field":"t"}}}
]},
{"width":531,"height":304,"layer":[
{"data":{"name":"hl"},"transform":[{"filter":"datum.p==='b'"}],"mark":{"type":"rule","color":"#3a3a3a","strokeWidth":1},"encoding":{"x":{"datum":0,"type":"quantitative","scale":{"domain":[-0.349,15.501],"nice":false,"zero":false},"axis":null},"x2":{"datum":10},"y":{"field":"y","type":"quantitative","scale":{"domain":[-3.47,3.502],"nice":false,"zero":false},"axis":null}}},
{"data":{"name":"vl"},"mark":{"type":"rule","color":"#3a3a3a","strokeWidth":1},"encoding":{"x":{"field":"x","type":"quantitative","scale":{"domain":[-0.349,15.501],"nice":false,"zero":false},"axis":null},"y":{"datum":3.502,"type":"quantitative","scale":{"domain":[-3.47,3.502],"nice":false,"zero":false},"axis":null},"y2":{"datum":-3.47}}},
{"data":{"name":"tx"},"mark":{"type":"rule","color":"#3a3a3a","strokeWidth":1},"encoding":{"x":{"field":"x","type":"quantitative","scale":{"domain":[-0.349,15.501],"nice":false,"zero":false},"axis":null},"y":{"datum":-0.08,"type":"quantitative","scale":{"domain":[-3.47,3.502],"nice":false,"zero":false},"axis":null},"y2":{"datum":0.08}}},
{"data":{"name":"ty"},"mark":{"type":"rule","color":"#3a3a3a","strokeWidth":1,"clip":true},"encoding":{"y":{"field":"y","type":"quantitative","scale":{"domain":[-3.47,3.502],"nice":false,"zero":false},"axis":null},"x":{"datum":4.89,"type":"quantitative","scale":{"domain":[-0.349,15.501],"nice":false,"zero":false},"axis":null},"x2":{"datum":5.11}}},
{"data":{"name":"dl"},"mark":{"type":"rule","color":"#444","strokeWidth":1,"strokeDash":[1.5,5]},"encoding":{"y":{"field":"y","type":"quantitative","scale":{"domain":[-3.47,3.502],"nice":false,"zero":false},"axis":null},"x":{"datum":0.12,"type":"quantitative","scale":{"domain":[-0.349,15.501],"nice":false,"zero":false},"axis":null},"x2":{"datum":9.88}}},
{"data":{"name":"ext"},"mark":{"type":"rule","color":"#3a3a3a","strokeWidth":1},"encoding":{"y":{"field":"y","type":"quantitative","scale":{"domain":[-3.47,3.502],"nice":false,"zero":false},"axis":null},"x":{"datum":10,"type":"quantitative","scale":{"domain":[-0.349,15.501],"nice":false,"zero":false},"axis":null},"x2":{"datum":10.2}}},
{"data":{"name":"B"},"transform":[{"filter":"datum.s!=='Vd'"}],"mark":{"type":"line","interpolate":"monotone","color":"#111","strokeWidth":1.1},"encoding":{"x":{"field":"x","type":"quantitative","scale":{"domain":[-0.349,15.501],"nice":false,"zero":false},"axis":null},"y":{"field":"y","type":"quantitative","scale":{"domain":[-3.47,3.502],"nice":false,"zero":false},"axis":null},"detail":{"field":"s"}}},
{"data":{"name":"B"},"transform":[{"filter":"datum.s==='Vd'"}],"mark":{"type":"line","interpolate":"linear","color":"#111","strokeWidth":1.35},"encoding":{"x":{"field":"x","type":"quantitative","scale":{"domain":[-0.349,15.501],"nice":false,"zero":false},"axis":null},"y":{"field":"y","type":"quantitative","scale":{"domain":[-3.47,3.502],"nice":false,"zero":false},"axis":null}}},
{"data":{"name":"mr"},"transform":[{"filter":"datum.p==='b'"}],"mark":{"type":"point","shape":"triangle-right","filled":false,"size":28,"color":"#222","strokeWidth":1},"encoding":{"x":{"field":"x","type":"quantitative","scale":{"domain":[-0.349,15.501],"nice":false,"zero":false},"axis":null},"y":{"field":"y","type":"quantitative","scale":{"domain":[-3.47,3.502],"nice":false,"zero":false},"axis":null}}},
{"data":{"name":"ml"},"transform":[{"filter":"datum.p==='b'"}],"mark":{"type":"point","shape":"triangle-left","filled":false,"size":28,"color":"#222","strokeWidth":1},"encoding":{"x":{"field":"x","type":"quantitative","scale":{"domain":[-0.349,15.501],"nice":false,"zero":false},"axis":null},"y":{"field":"y","type":"quantitative","scale":{"domain":[-3.47,3.502],"nice":false,"zero":false},"axis":null}}},
{"data":{"name":"ch"},"transform":[{"filter":"datum.p==='b'"}],"mark":{"type":"text","font":"DejaVu Sans","fontWeight":"bold","fontSize":9,"align":"center","baseline":"middle","color":"#111"},"encoding":{"x":{"field":"x","type":"quantitative","scale":{"domain":[-0.349,15.501],"nice":false,"zero":false},"axis":null},"y":{"field":"y","type":"quantitative","scale":{"domain":[-3.47,3.502],"nice":false,"zero":false},"axis":null},"text":{"field":"t"}}},
{"data":{"name":"tr"},"transform":[{"filter":"datum.p==='b'"}],"mark":{"type":"text","font":"Liberation Mono","fontSize":17,"align":"left","baseline":"alphabetic","color":"#000"},"encoding":{"x":{"field":"x","type":"quantitative","scale":{"domain":[-0.349,15.501],"nice":false,"zero":false},"axis":null},"y":{"field":"y","type":"quantitative","scale":{"domain":[-3.47,3.502],"nice":false,"zero":false},"axis":null},"text":{"field":"t"}}},
{"data":{"name":"ti"},"transform":[{"filter":"datum.p==='b'"}],"mark":{"type":"text","font":"Liberation Mono","fontStyle":"italic","fontSize":17,"align":"left","baseline":"alphabetic","color":"#000"},"encoding":{"x":{"field":"x","type":"quantitative","scale":{"domain":[-0.349,15.501],"nice":false,"zero":false},"axis":null},"y":{"field":"y","type":"quantitative","scale":{"domain":[-3.47,3.502],"nice":false,"zero":false},"axis":null},"text":{"field":"t"}}}
]},
{"width":531,"height":324,"layer":[
{"data":{"name":"hl"},"transform":[{"filter":"datum.p==='c'"}],"mark":{"type":"rule","color":"#3a3a3a","strokeWidth":1},"encoding":{"x":{"datum":0,"type":"quantitative","scale":{"domain":[-0.388,15.463],"nice":false,"zero":false},"axis":null},"x2":{"datum":10},"y":{"field":"y","type":"quantitative","scale":{"domain":[-3.947,3.501],"nice":false,"zero":false},"axis":null}}},
{"data":{"name":"vl"},"mark":{"type":"rule","color":"#3a3a3a","strokeWidth":1},"encoding":{"x":{"field":"x","type":"quantitative","scale":{"domain":[-0.388,15.463],"nice":false,"zero":false},"axis":null},"y":{"datum":3.501,"type":"quantitative","scale":{"domain":[-3.947,3.501],"nice":false,"zero":false},"axis":null},"y2":{"datum":-3.947}}},
{"data":{"name":"tx"},"mark":{"type":"rule","color":"#3a3a3a","strokeWidth":1},"encoding":{"x":{"field":"x","type":"quantitative","scale":{"domain":[-0.388,15.463],"nice":false,"zero":false},"axis":null},"y":{"datum":-0.08,"type":"quantitative","scale":{"domain":[-3.947,3.501],"nice":false,"zero":false},"axis":null},"y2":{"datum":0.08}}},
{"data":{"name":"ty"},"mark":{"type":"rule","color":"#3a3a3a","strokeWidth":1,"clip":true},"encoding":{"y":{"field":"y","type":"quantitative","scale":{"domain":[-3.947,3.501],"nice":false,"zero":false},"axis":null},"x":{"datum":4.89,"type":"quantitative","scale":{"domain":[-0.388,15.463],"nice":false,"zero":false},"axis":null},"x2":{"datum":5.11}}},
{"data":{"name":"dl"},"mark":{"type":"rule","color":"#444","strokeWidth":1,"strokeDash":[1.5,5]},"encoding":{"y":{"field":"y","type":"quantitative","scale":{"domain":[-3.947,3.501],"nice":false,"zero":false},"axis":null},"x":{"datum":0.12,"type":"quantitative","scale":{"domain":[-0.388,15.463],"nice":false,"zero":false},"axis":null},"x2":{"datum":9.88}}},
{"data":{"name":"ext"},"mark":{"type":"rule","color":"#3a3a3a","strokeWidth":1},"encoding":{"y":{"field":"y","type":"quantitative","scale":{"domain":[-3.947,3.501],"nice":false,"zero":false},"axis":null},"x":{"datum":10,"type":"quantitative","scale":{"domain":[-0.388,15.463],"nice":false,"zero":false},"axis":null},"x2":{"datum":10.2}}},
{"data":{"name":"C"},"transform":[{"filter":"datum.s!=='Vd'"}],"mark":{"type":"line","interpolate":"monotone","color":"#111","strokeWidth":1.1},"encoding":{"x":{"field":"x","type":"quantitative","scale":{"domain":[-0.388,15.463],"nice":false,"zero":false},"axis":null},"y":{"field":"y","type":"quantitative","scale":{"domain":[-3.947,3.501],"nice":false,"zero":false},"axis":null},"detail":{"field":"s"}}},
{"data":{"name":"C"},"transform":[{"filter":"datum.s==='Vd'"}],"mark":{"type":"line","interpolate":"linear","color":"#111","strokeWidth":1.35},"encoding":{"x":{"field":"x","type":"quantitative","scale":{"domain":[-0.388,15.463],"nice":false,"zero":false},"axis":null},"y":{"field":"y","type":"quantitative","scale":{"domain":[-3.947,3.501],"nice":false,"zero":false},"axis":null}}},
{"data":{"name":"mr"},"transform":[{"filter":"datum.p==='c'"}],"mark":{"type":"point","shape":"triangle-right","filled":false,"size":28,"color":"#222","strokeWidth":1},"encoding":{"x":{"field":"x","type":"quantitative","scale":{"domain":[-0.388,15.463],"nice":false,"zero":false},"axis":null},"y":{"field":"y","type":"quantitative","scale":{"domain":[-3.947,3.501],"nice":false,"zero":false},"axis":null}}},
{"data":{"name":"ml"},"transform":[{"filter":"datum.p==='c'"}],"mark":{"type":"point","shape":"triangle-left","filled":false,"size":28,"color":"#222","strokeWidth":1},"encoding":{"x":{"field":"x","type":"quantitative","scale":{"domain":[-0.388,15.463],"nice":false,"zero":false},"axis":null},"y":{"field":"y","type":"quantitative","scale":{"domain":[-3.947,3.501],"nice":false,"zero":false},"axis":null}}},
{"data":{"name":"ch"},"transform":[{"filter":"datum.p==='c'"}],"mark":{"type":"text","font":"DejaVu Sans","fontWeight":"bold","fontSize":9,"align":"center","baseline":"middle","color":"#111"},"encoding":{"x":{"field":"x","type":"quantitative","scale":{"domain":[-0.388,15.463],"nice":false,"zero":false},"axis":null},"y":{"field":"y","type":"quantitative","scale":{"domain":[-3.947,3.501],"nice":false,"zero":false},"axis":null},"text":{"field":"t"}}},
{"data":{"name":"tr"},"transform":[{"filter":"datum.p==='c'"}],"mark":{"type":"text","font":"Liberation Mono","fontSize":17,"align":"left","baseline":"alphabetic","color":"#000"},"encoding":{"x":{"field":"x","type":"quantitative","scale":{"domain":[-0.388,15.463],"nice":false,"zero":false},"axis":null},"y":{"field":"y","type":"quantitative","scale":{"domain":[-3.947,3.501],"nice":false,"zero":false},"axis":null},"text":{"field":"t"}}},
{"data":{"name":"ti"},"transform":[{"filter":"datum.p==='c'"}],"mark":{"type":"text","font":"Liberation Mono","fontStyle":"italic","fontSize":17,"align":"left","baseline":"alphabetic","color":"#000"},"encoding":{"x":{"field":"x","type":"quantitative","scale":{"domain":[-0.388,15.463],"nice":false,"zero":false},"axis":null},"y":{"field":"y","type":"quantitative","scale":{"domain":[-3.947,3.501],"nice":false,"zero":false},"axis":null},"text":{"field":"t"}}}
]}
]
}
